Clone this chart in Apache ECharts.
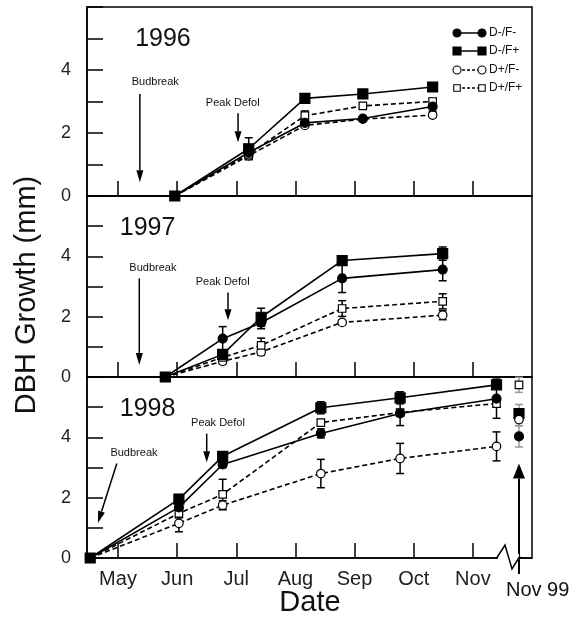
<!DOCTYPE html>
<html><head><meta charset="utf-8">
<script src="https://cdn.jsdelivr.net/npm/echarts@6/dist/echarts.min.js"></script>
<style>html,body{margin:0;padding:0;background:#fff}#c{width:575px;height:629px}</style>
</head><body><div id="c"></div>
<script>
const FONT = '"Liberation Sans", Arial, sans-serif';

// ---- axis definitions ----
const monthTicks = [5, 6, 7, 8, 9, 10, 11];
const monthLabels = ['May', 'Jun', 'Jul', 'Aug', 'Sep', 'Oct', 'Nov'];
const yTickLabels = [0, 2, 4];
const seriesNames = ['D-/F-', 'D-/F+', 'D+/F-', 'D+/F+'];
const yearLabels = ['1996', '1997', '1998'];

// ---- 1996 ----
const x1996 = [5.96, 7.21, 8.16, 9.14, 10.32];
const dmfm1996 = [0, 1.38, 2.32, 2.46, 2.84];
const dmfp1996 = [0, 1.50, 3.10, 3.24, 3.46];
const dpfm1996 = [0, 1.28, 2.24, 2.44, 2.57];
const dpfp1996 = [0, 1.32, 2.55, 2.86, 3.00];
const e_dmfm1996 = [0, 0.20, 0.06, 0.05, 0.15];
const e_dmfp1996 = [0, 0.35, 0.06, 0.05, 0.06];
const e_dpfm1996 = [0, 0.10, 0.06, 0.05, 0.06];
const e_dpfp1996 = [0, 0.12, 0.15, 0.05, 0.10];

// ---- 1997 ----
const x1997 = [5.80, 6.77, 7.42, 8.79, 10.49];
const dmfm1997 = [0, 1.27, 1.80, 3.27, 3.56];
const dmfp1997 = [0, 0.75, 1.98, 3.86, 4.09];
const dpfm1997 = [0, 0.52, 0.83, 1.81, 2.05];
const dpfp1997 = [0, 0.65, 1.05, 2.27, 2.51];
const e_dmfm1997 = [0, 0.40, 0.20, 0.47, 0.37];
const e_dmfp1997 = [0, 0.15, 0.30, 0.12, 0.22];
const e_dpfm1997 = [0, 0.08, 0.10, 0.08, 0.15];
const e_dpfp1997 = [0, 0.10, 0.24, 0.26, 0.25];

// ---- 1998 ----
const x1998 = [4.53, 6.03, 6.77, 8.43, 9.77, 11.40];
const dmfm1998 = [0, 1.68, 3.10, 4.13, 4.79, 5.28];
const dmfp1998 = [0, 1.95, 3.37, 4.98, 5.31, 5.74];
const dpfm1998 = [0, 1.15, 1.75, 2.80, 3.30, 3.70];
const dpfp1998 = [0, 1.48, 2.11, 4.49, 4.82, 5.12];
const e_dmfm1998 = [0, 0.10, 0.10, 0.15, 0.40, 0.65];
const e_dmfp1998 = [0, 0.15, 0.10, 0.20, 0.20, 0.10];
const e_dpfm1998 = [0, 0.28, 0.15, 0.47, 0.50, 0.48];
const e_dpfp1998 = [0, 0.15, 0.50, 0.10, 0.10, 0.10];

// ---- Nov 99 (1998 panel, unconnected) ----
const xNov99 = 11.78;
const nov99Values = [4.03, 4.79, 4.59, 5.74];
const nov99Errors = [0.35, 0.30, 0.20, 0.25];

// ---- annotations (data coords per panel) ----
const budbreakArrows = [[[5.37, 3.24], [5.37, 0.44]], [[5.36, 3.27], [5.36, 0.40]], [[4.98, 3.13], [4.66, 1.16]]];
const budbreakLabelPos = [[5.63, 3.62], [5.59, 3.63], [5.27, 3.47]];
const defolArrows = [[[7.03, 2.63], [7.03, 1.71]], [[6.86, 2.80], [6.86, 1.88]], [[6.50, 4.12], [6.50, 3.17]]];
const defolLabelPos = [[6.94, 2.95], [6.77, 3.14], [6.69, 4.46]];
const yearLabelPos = [[5.76, 4.98], [5.50, 4.92], [5.50, 4.92]];

const panels = [
  { x: x1996, vals: [dmfm1996, dmfp1996, dpfm1996, dpfp1996], errs: [e_dmfm1996, e_dmfp1996, e_dpfm1996, e_dpfp1996] },
  { x: x1997, vals: [dmfm1997, dmfp1997, dpfm1997, dpfp1997], errs: [e_dmfm1997, e_dmfp1997, e_dpfm1997, e_dpfp1997] },
  { x: x1998, vals: [dmfm1998, dmfp1998, dpfm1998, dpfp1998], errs: [e_dmfm1998, e_dmfp1998, e_dpfm1998, e_dpfp1998] }
];

const styles = [
  { symbol: 'circle', size: 9, fill: '#000', dash: 'solid', z: 5 },
  { symbol: 'rect', size: 10, fill: '#000', dash: 'solid', z: 6 },
  { symbol: 'circle', size: 8.5, fill: '#fff', dash: [5, 3], z: 3 },
  { symbol: 'rect', size: 7.5, fill: '#fff', dash: [5, 3], z: 4 }
];

const gridBoxes = [
  { left: 87, top: 7, width: 445, height: 189 },
  { left: 87, top: 196, width: 445, height: 181 },
  { left: 87, top: 377, width: 445, height: 181 }
];
const XMIN = 4.476, XMAX = 12;

function makeErrRender(color) {
  return function (params, api) {
    const x = api.value(0), y = api.value(1), e = api.value(2);
    if (!e) return null;
    const t = api.coord([x, y + e]), b = api.coord([x, y - e]);
    const w = 4;
    const st = { stroke: color, lineWidth: 1.5 };
    return { type: 'group', children: [
      { type: 'line', shape: { x1: t[0], y1: t[1], x2: b[0], y2: b[1] }, style: st },
      { type: 'line', shape: { x1: t[0] - w, y1: t[1], x2: t[0] + w, y2: t[1] }, style: st },
      { type: 'line', shape: { x1: b[0] - w, y1: b[1], x2: b[0] + w, y2: b[1] }, style: st }
    ] };
  };
}

const grids = [], xAxes = [], yAxes = [], series = [];
panels.forEach((p, gi) => {
  grids.push(Object.assign({ show: true, borderColor: '#000', borderWidth: 1.5, backgroundColor: 'transparent' }, gridBoxes[gi]));
  xAxes.push({
    type: 'value', gridIndex: gi, min: XMIN, max: XMAX,
    axisLine: { show: true, onZero: false, lineStyle: { color: '#000', width: 1.5 } },
    axisTick: { show: true, inside: true, length: 15, customValues: monthTicks, lineStyle: { color: '#000', width: 1.5 } },
    axisLabel: gi === 2 ? {
      show: true, customValues: monthTicks, margin: 11, color: '#222', fontFamily: FONT, fontSize: 20,
      formatter: v => monthLabels[monthTicks.indexOf(Math.round(v))] || ''
    } : { show: false },
    splitLine: { show: false }
  });
  yAxes.push({
    type: 'value', gridIndex: gi, min: 0, max: 6, interval: 1,
    axisLine: { show: true, lineStyle: { color: '#000', width: 1.5 } },
    axisTick: { show: true, inside: true, length: 16, lineStyle: { color: '#000', width: 1.5 } },
    axisLabel: { show: true, margin: 16, color: '#222', fontFamily: FONT, fontSize: 18,
      formatter: v => (yTickLabels.indexOf(v) >= 0 ? String(v) : '') },
    splitLine: { show: false }
  });
  // error bars
  const errData = [];
  p.vals.forEach((vals, si) => vals.forEach((v, i) => errData.push([p.x[i], v, p.errs[si][i]])));
  series.push({ type: 'custom', xAxisIndex: gi, yAxisIndex: gi, z: 2, renderItem: makeErrRender('#000'), data: errData, silent: true });
  p.vals.forEach((vals, si) => {
    const s = styles[si];
    series.push({
      type: 'line', name: seriesNames[si], xAxisIndex: gi, yAxisIndex: gi, z: s.z,
      data: vals.map((v, i) => [p.x[i], v]),
      symbol: s.symbol, symbolSize: s.size, showSymbol: true,
      lineStyle: { color: '#000', width: 1.6, type: s.dash },
      itemStyle: { color: s.fill, borderColor: '#000', borderWidth: 1.2, opacity: 1 },
      animation: false
    });
  });
});
// Nov 99 points
series.push({ type: 'custom', xAxisIndex: 2, yAxisIndex: 2, z: 2, renderItem: makeErrRender('#999'),
  data: nov99Values.map((v, i) => [xNov99, v, nov99Errors[i]]), silent: true });
series.push({
  type: 'scatter', xAxisIndex: 2, yAxisIndex: 2, z: 7, animation: false,
  data: nov99Values.map((v, i) => ({ value: [xNov99, v], symbol: styles[i].symbol, symbolSize: styles[i].size,
    itemStyle: { color: styles[i].fill, borderColor: '#000', borderWidth: 1.2, opacity: 1 } }))
});

const chart = echarts.init(document.getElementById('c'));
chart.setOption({ animation: false, grid: grids, xAxis: xAxes, yAxis: yAxes, series: series });

// ---- graphic overlays ----
const g = [];
const px = (gi, pt) => chart.convertToPixel({ gridIndex: gi }, pt);
function arrow(a, b, headLen, headW, lw) {
  const dx = b[0] - a[0], dy = b[1] - a[1], L = Math.hypot(dx, dy);
  const ux = dx / L, uy = dy / L;
  const bx = b[0] - ux * headLen, by = b[1] - uy * headLen;
  g.push({ type: 'line', z: 50, shape: { x1: a[0], y1: a[1], x2: bx, y2: by }, style: { stroke: '#000', lineWidth: lw } });
  g.push({ type: 'polygon', z: 50, shape: { points: [[b[0], b[1]], [bx - uy * headW / 2, by + ux * headW / 2], [bx + uy * headW / 2, by - ux * headW / 2]] }, style: { fill: '#000' } });
}
function text(x, y, str, size, align, vAlign) {
  g.push({ type: 'text', z: 50, x: x, y: y, style: { text: str, fontFamily: FONT, fontSize: size, fill: '#111', align: align || 'center', verticalAlign: vAlign || 'middle' } });
}
for (let gi = 0; gi < 3; gi++) {
  arrow(px(gi, budbreakArrows[gi][0]), px(gi, budbreakArrows[gi][1]), 12, 7, 1.5);
  const bl = px(gi, budbreakLabelPos[gi]);
  text(bl[0], bl[1], 'Budbreak', 11);
  arrow(px(gi, defolArrows[gi][0]), px(gi, defolArrows[gi][1]), 11, 7, 1.5);
  const dl = px(gi, defolLabelPos[gi]);
  text(dl[0], dl[1], 'Peak Defol', 11);
  const yl = px(gi, yearLabelPos[gi]);
  text(yl[0], yl[1], yearLabels[gi], 25);
}
// axis break on bottom panel
g.push({ type: 'rect', z: 60, shape: { x: 498, y: 554, width: 21, height: 6 }, style: { fill: '#fff' } });
g.push({ type: 'polyline', z: 61, shape: { points: [[497, 557.5], [505, 545], [512, 569], [519, 557.5], [521, 557.5]] }, style: { stroke: '#000', lineWidth: 1.5, fill: null } });
// Nov 99 arrow
const nTop = px(2, [xNov99, 3.13]);
arrow([nTop[0], 574], nTop, 15, 12, 2);
text(506, 590, 'Nov 99', 20, 'left');
// axis titles
text(310, 603, 'Date', 29);
g.push({ type: 'text', z: 50, x: 27, y: 295, rotation: Math.PI / 2,
  style: { text: 'DBH Growth (mm)', fontFamily: FONT, fontSize: 29, fill: '#111', align: 'center', verticalAlign: 'middle' } });
// legend
const legY = [33, 51, 70, 88];
seriesNames.forEach((n, i) => {
  const s = styles[i], y = legY[i];
  g.push({ type: 'line', z: 50, shape: { x1: 457, y1: y, x2: 482, y2: y }, style: { stroke: '#000', lineWidth: 1.5, lineDash: s.dash === 'solid' ? null : [3, 2] } });
  [457, 482].forEach(cx => {
    if (s.symbol === 'circle') {
      g.push({ type: 'circle', z: 51, shape: { cx: cx, cy: y, r: 4 }, style: { fill: s.fill, stroke: '#000', lineWidth: 1.1 } });
    } else {
      const w = s.fill === '#000' ? 8 : 6.5;
      g.push({ type: 'rect', z: 51, shape: { x: cx - w / 2, y: y - w / 2, width: w, height: w }, style: { fill: s.fill, stroke: '#000', lineWidth: 1.1 } });
    }
  });
  text(489, y, n, 12, 'left');
});
chart.setOption({ graphic: g });
</script></body></html>
